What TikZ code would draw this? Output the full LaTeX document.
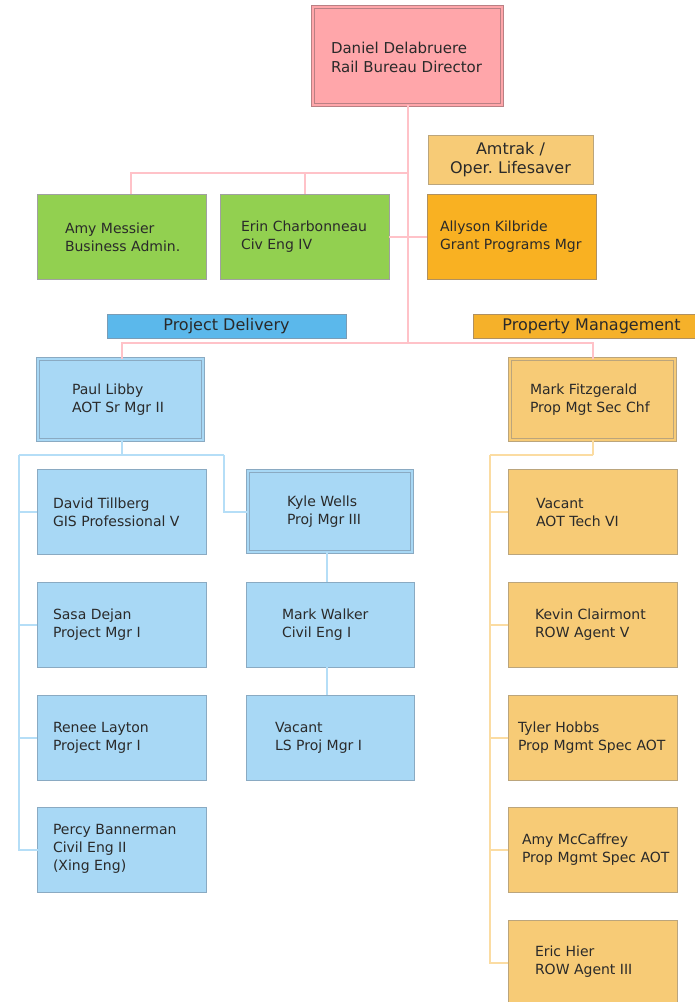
\documentclass[tikz,border=0pt]{standalone}
\usepackage{fontspec}
\setmainfont{DejaVu Sans}
\frenchspacing
\definecolor{txt}{HTML}{2A2A2A}
\definecolor{pinkf}{HTML}{FFA6AA}
\definecolor{pinkb}{HTML}{B98084}
\definecolor{pinkl}{HTML}{FFC2C8}
\definecolor{grnf}{HTML}{92D050}
\definecolor{grnb}{HTML}{A0A0A0}
\definecolor{ltorf}{HTML}{F7CB76}
\definecolor{ltorb}{HTML}{BBA57C}
\definecolor{orf}{HTML}{F9B122}
\definecolor{orb}{HTML}{B09060}
\definecolor{pdfill}{HTML}{5BB8EB}
\definecolor{pdb}{HTML}{7A9CB5}
\definecolor{pmf}{HTML}{F5B12A}
\definecolor{bluf}{HTML}{A8D8F5}
\definecolor{blub}{HTML}{8AAAC2}
\definecolor{blul}{HTML}{B5DEF7}
\definecolor{orl}{HTML}{FBDCA2}
\newcommand\myfA{\fontsize{14}{18}\selectfont}
\newcommand\myfB{\fontsize{15}{19}\selectfont}
\newcommand\myfC{\fontsize{16}{19}\selectfont}
\tikzset{
  box/.style={rectangle, inner sep=0pt, outer sep=0pt, minimum width=169pt, minimum height=85pt,
    line width=0.8pt},
  tx/.style={anchor=west, inner sep=0pt, outer sep=0pt, align=left, font=\myfA, text=txt},
  greenbox/.style={box, fill=grnf, draw=grnb},
  bluebox/.style={box, fill=bluf, draw=blub},
  ltorbox/.style={box, fill=ltorf, draw=ltorb},
  orbox/.style={box, fill=orf, draw=orb},
  dblblue/.style={bluebox, double=bluf, double distance=2.5pt, line width=0.9pt, minimum width=165pt, minimum height=81pt},
  dblor/.style={ltorbox, double=ltorf, double distance=2.5pt, line width=0.9pt, minimum width=165pt, minimum height=81pt},
  dirbox/.style={box, fill=pinkf, draw=pinkb, double=pinkf, double distance=2.5pt, line width=0.9pt,
    minimum width=189pt, minimum height=98pt},
  labelbox/.style={rectangle, inner sep=0pt, outer sep=0pt, minimum height=24pt, font=\myfC, text=txt, line width=0.8pt},
  pline/.style={draw=pinkl, line width=2pt},
  bline/.style={draw=blul, line width=2pt},
  oline/.style={draw=orl, line width=2pt},
}
\begin{document}
\begin{tikzpicture}[x=1pt,y=-1pt]
\fill[white] (0,0) rectangle (695,1002);
\useasboundingbox (0,0) rectangle (695,1002);

\coordinate (jtop) at (407.5,173);
\coordinate (jmid) at (407.5,343);
\coordinate (jpaul) at (122,455);
\coordinate (jleft) at (19,455);
\coordinate (jright) at (224,455);
\coordinate (jmf) at (593,455);
\coordinate (jor) at (489.5,455);

% boxes
\node[dirbox] (dir) at (407.5,56) {};
\node[greenbox] (amy) at (121.5,236.5) {};
\node[greenbox] (erin) at (304.5,236.5) {};
\node[ltorbox, minimum width=165pt, minimum height=49pt, align=center, font=\myfC, text=txt] (amtrak) at (510.5,159.5) {Amtrak /\\Oper. Lifesaver};
\node[orbox] (ally) at (511.5,236.5) {};
\node[labelbox, fill=pdfill, draw=pdb, minimum width=239pt] (pd) at (226.5,326) {Project Delivery};
\node[labelbox, fill=pmf, draw=orb, minimum width=237pt] (pm) at (591.5,326) {Property Management};

\node[dblblue] (paul) at (120.5,399.5) {};
\node[dblor] (mf) at (592.5,399.5) {};

\node[bluebox] (david) at (121.5,511.5) {};
\node[bluebox] (sasa) at (121.5,624.5) {};
\node[bluebox] (renee) at (121.5,737.5) {};
\node[bluebox] (percy) at (122,849.5) {};

\node[dblblue, minimum width=164pt] (kyle) at (330,511.5) {};
\node[bluebox, minimum width=168pt] (mw) at (330,624.5) {};
\node[bluebox, minimum width=168pt] (vls) at (330,737.5) {};

\node[ltorbox] (vac) at (592.5,511.5) {};
\node[ltorbox] (kevin) at (592.5,624.5) {};
\node[ltorbox] (tyler) at (592.5,737.5) {};
\node[ltorbox] (amymc) at (592.5,849.5) {};
\node[ltorbox] (eric) at (592.5,962.5) {};

% texts
\node[tx, font=\myfB] (tdir) at (331,57) {Daniel Delabruere\\Rail Bureau Director};
\node[tx] (tamy) at (65,237) {Amy Messier\\Business Admin.};
\node[tx] (terin) at (241,237) {Erin Charbonneau\\Civ Eng IV};
\node[tx] (tally) at (440,237) {Allyson Kilbride\\Grant Programs Mgr};
\node[tx] (tpaul) at (72,400) {Paul Libby\\AOT Sr Mgr II};
\node[tx] (tmf) at (530,400) {Mark Fitzgerald\\Prop Mgt Sec Chf};
\node[tx] (tdavid) at (53,512) {David Tillberg\\GIS Professional V};
\node[tx] (tsasa) at (53,625) {Sasa Dejan\\Project Mgr I};
\node[tx] (trenee) at (53,738) {Renee Layton\\Project Mgr I};
\node[tx] (tpercy) at (53,849) {Percy Bannerman\\Civil Eng II\\(Xing Eng)};
\node[tx] (tkyle) at (287,512) {Kyle Wells\\Proj Mgr III};
\node[tx] (tmw) at (282,625) {Mark Walker\\Civil Eng I};
\node[tx] (tvls) at (275,738) {Vacant\\LS Proj Mgr I};
\node[tx] (tvac) at (536,512) {Vacant\\AOT Tech VI};
\node[tx] (tkevin) at (535,625) {Kevin Clairmont\\ROW Agent V};
\node[tx] (ttyler) at (518,738) {Tyler Hobbs\\Prop Mgmt Spec AOT};
\node[tx] (tamymc) at (522,850) {Amy McCaffrey\\Prop Mgmt Spec AOT};
\node[tx] (teric) at (535,962) {Eric Hier\\ROW Agent III};

% pink connectors
\draw[pline] (dir.south) -- (jmid);
\draw[pline] ([xshift=9.5pt]amy.north) |- (jtop);
\draw[pline] (erin.north) -- (erin.north |- jtop);
\draw[pline] (erin.east) -- (ally.west);
\draw[pline] ([xshift=1.5pt]paul.north) |- (jmid);
\draw[pline] ([xshift=0.5pt]mf.north) |- (jmid);

% blue connectors
\draw[bline] ([xshift=1.5pt]paul.south) -- (jpaul);
\draw[bline] (jleft) -- (jright);
\draw[bline] (jleft) |- (percy.west);
\draw[bline] (jleft |- david.west) -- (david.west);
\draw[bline] (jleft |- sasa.west) -- (sasa.west);
\draw[bline] (jleft |- renee.west) -- (renee.west);
\draw[bline] (jright) |- (kyle.west);
\draw[bline] ([xshift=-3pt]kyle.south) -- ([xshift=-3pt]mw.north);
\draw[bline] ([xshift=-3pt]mw.south) -- ([xshift=-3pt]vls.north);

% orange connectors
\draw[oline] ([xshift=0.5pt]mf.south) -- (jmf);
\draw[oline] (jmf) -- (jor);
\draw[oline] (jor) |- (eric.west);
\draw[oline] (jor |- vac.west) -- (vac.west);
\draw[oline] (jor |- kevin.west) -- (kevin.west);
\draw[oline] (jor |- tyler.west) -- (tyler.west);
\draw[oline] (jor |- amymc.west) -- (amymc.west);
\end{tikzpicture}
\end{document}
